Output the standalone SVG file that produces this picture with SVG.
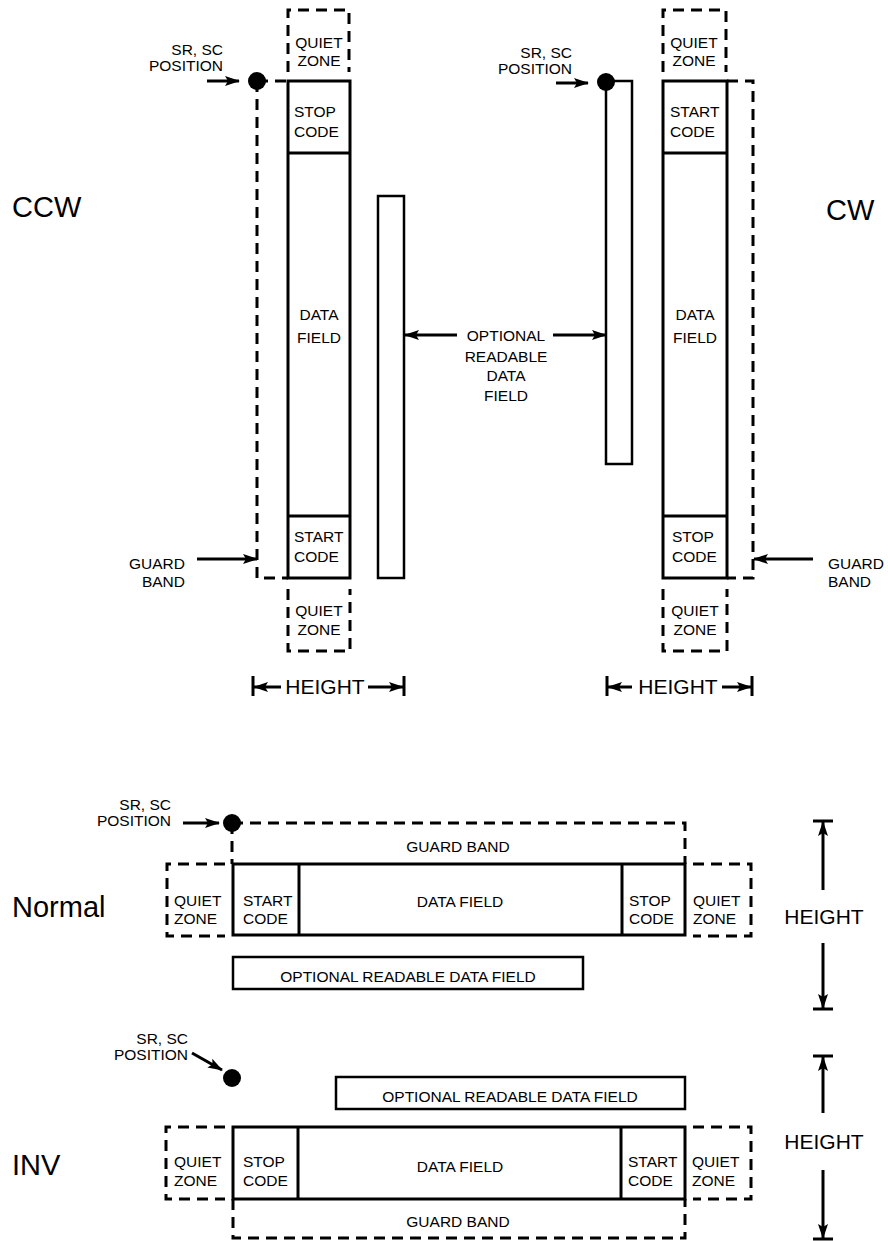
<svg xmlns="http://www.w3.org/2000/svg" width="888" height="1241" viewBox="0 0 888 1241">
<defs>
<style>
text{font-family:"Liberation Sans",Arial,sans-serif;fill:#000}
.t{font-size:15.5px}
.m{text-anchor:middle}
.e{text-anchor:end}
.big{font-size:21px}
.lab{font-size:29px}
.s{fill:none;stroke:#000;stroke-width:3}
.r{fill:none;stroke:#000;stroke-width:2.5}
.d{fill:none;stroke:#000;stroke-width:3;stroke-dasharray:11 7}
.a{fill:none;stroke:#000;stroke-width:3;marker-end:url(#ah)}
.k{stroke:#000;stroke-width:3}
</style>
<marker id="ah" viewBox="0 0 15 10" refX="14" refY="5" markerWidth="15" markerHeight="10" orient="auto" markerUnits="userSpaceOnUse">
<path d="M0,0 L15,5 L0,10 L3,5 z" fill="#000"/>
</marker>
</defs>
<rect width="888" height="1241" fill="#fff"/>

<!-- Titles -->
<g id="labels">
<text class="lab" x="12" y="217">CCW</text>
<text class="lab" x="826" y="220">CW</text>
<text class="lab" x="12" y="917">Normal</text>
<text class="lab" x="12" y="1175">INV</text>
</g>

<!-- CCW -->
<g id="ccw-quiet-top">
<path class="d" d="M288,72 V10 H349 V72"/>
<text class="t m" x="319" y="48">QUIET</text>
<text class="t m" x="319" y="66">ZONE</text>
</g>
<g id="ccw-bar">
<rect class="s" x="288" y="81" width="62" height="497"/>
<line class="k" x1="288" y1="153" x2="350" y2="153"/>
<line class="k" x1="288" y1="516" x2="350" y2="516"/>
<text class="t" x="294" y="117">STOP</text>
<text class="t" x="294" y="137">CODE</text>
<text class="t m" x="319" y="320">DATA</text>
<text class="t m" x="319" y="343">FIELD</text>
<text class="t" x="294" y="542">START</text>
<text class="t" x="294" y="562">CODE</text>
</g>
<g id="ccw-guard">
<path class="d" d="M257,81 H288"/>
<path class="d" d="M257,81 V578 H288"/>
</g>
<g id="ccw-quiet-bottom">
<path class="d" d="M288,589 V651 H350 V589"/>
<text class="t m" x="319" y="616">QUIET</text>
<text class="t m" x="319" y="635">ZONE</text>
</g>
<g id="ccw-readable">
<rect class="r" x="378" y="196" width="26" height="382"/>
</g>
<g id="ccw-position">
<circle cx="257" cy="81" r="9" fill="#000"/>
<text class="t e" x="223" y="55">SR, SC</text>
<text class="t e" x="223" y="71">POSITION</text>
</g>
<g id="ccw-guard-label">
<text class="t e" x="185" y="569">GUARD</text>
<text class="t e" x="185" y="587">BAND</text>
</g>
<g id="ccw-height">
<line class="k" x1="253" y1="676" x2="253" y2="696"/>
<line class="k" x1="404" y1="676" x2="404" y2="696"/>
<text class="big m" x="325" y="694">HEIGHT</text>
</g>

<!-- CW -->
<g id="cw-quiet-top">
<path class="d" d="M663,72 V10 H726 V72"/>
<text class="t m" x="694" y="48">QUIET</text>
<text class="t m" x="694" y="66">ZONE</text>
</g>
<g id="cw-bar">
<rect class="s" x="663" y="81" width="64" height="497"/>
<line class="k" x1="663" y1="153" x2="727" y2="153"/>
<line class="k" x1="663" y1="516" x2="727" y2="516"/>
<text class="t" x="670" y="117">START</text>
<text class="t" x="670" y="137">CODE</text>
<text class="t m" x="695" y="320">DATA</text>
<text class="t m" x="695" y="343">FIELD</text>
<text class="t" x="672" y="542">STOP</text>
<text class="t" x="672" y="562">CODE</text>
</g>
<g id="cw-guard">
<path class="d" d="M727,81 H753 V578 H727"/>
</g>
<g id="cw-quiet-bottom">
<path class="d" d="M663,589 V651 H727 V589"/>
<text class="t m" x="695" y="616">QUIET</text>
<text class="t m" x="695" y="635">ZONE</text>
</g>
<g id="cw-readable">
<rect class="r" x="606" y="81" width="26" height="383"/>
</g>
<g id="cw-position">
<circle cx="606" cy="82" r="9" fill="#000"/>
<text class="t e" x="572" y="58">SR, SC</text>
<text class="t e" x="572" y="74">POSITION</text>
</g>
<g id="cw-guard-label">
<text class="t" x="828" y="569">GUARD</text>
<text class="t" x="828" y="587">BAND</text>
</g>
<g id="cw-height">
<line class="k" x1="607" y1="676" x2="607" y2="696"/>
<line class="k" x1="752" y1="676" x2="752" y2="696"/>
<text class="big m" x="678" y="694">HEIGHT</text>
</g>

<g id="optional-label">
<text class="t m" x="506" y="341">OPTIONAL</text>
<text class="t m" x="506" y="362">READABLE</text>
<text class="t m" x="506" y="381">DATA</text>
<text class="t m" x="506" y="401">FIELD</text>
</g>

<!-- Normal -->
<g id="normal-position">
<circle cx="232" cy="823" r="9" fill="#000"/>
<text class="t e" x="171" y="810">SR, SC</text>
<text class="t e" x="171" y="826">POSITION</text>
</g>
<g id="normal-guard">
<path class="d" d="M232,823 H685 V864"/>
<path class="d" d="M232,823 V864"/>
<text class="t m" x="458" y="852">GUARD BAND</text>
</g>
<g id="normal-quiet-left">
<path class="d" d="M225,864 H167 V936 H225"/>
<text class="t" x="174" y="906">QUIET</text>
<text class="t" x="174" y="924">ZONE</text>
</g>
<g id="normal-bar">
<rect class="s" x="233" y="864" width="452" height="71"/>
<line class="k" x1="299" y1="864" x2="299" y2="935"/>
<line class="k" x1="622" y1="864" x2="622" y2="935"/>
<text class="t" x="243" y="906">START</text>
<text class="t" x="243" y="924">CODE</text>
<text class="t m" x="460" y="907">DATA FIELD</text>
<text class="t" x="629" y="906">STOP</text>
<text class="t" x="629" y="924">CODE</text>
</g>
<g id="normal-quiet-right">
<path class="d" d="M693,864 H751 V936 H693"/>
<text class="t" x="693" y="906">QUIET</text>
<text class="t" x="693" y="924">ZONE</text>
</g>
<g id="normal-readable">
<rect class="r" x="233" y="957" width="350" height="32"/>
<text class="t m" x="408" y="982">OPTIONAL READABLE DATA FIELD</text>
</g>
<g id="normal-height">
<line class="k" x1="813" y1="821" x2="833" y2="821"/>
<line class="k" x1="813" y1="1009" x2="833" y2="1009"/>
<text class="big m" x="824" y="924">HEIGHT</text>
</g>

<!-- INV -->
<g id="inv-position">
<circle cx="232" cy="1078" r="9" fill="#000"/>
<text class="t e" x="188" y="1044">SR, SC</text>
<text class="t e" x="188" y="1060">POSITION</text>
</g>
<g id="inv-readable">
<rect class="r" x="336" y="1077" width="349" height="32"/>
<text class="t m" x="510" y="1102">OPTIONAL READABLE DATA FIELD</text>
</g>
<g id="inv-quiet-left">
<path class="d" d="M225,1127 H166 V1199 H225"/>
<text class="t" x="174" y="1167">QUIET</text>
<text class="t" x="174" y="1186">ZONE</text>
</g>
<g id="inv-bar">
<rect class="s" x="233" y="1127" width="452" height="72"/>
<line class="k" x1="298" y1="1127" x2="298" y2="1199"/>
<line class="k" x1="621" y1="1127" x2="621" y2="1199"/>
<text class="t" x="243" y="1167">STOP</text>
<text class="t" x="243" y="1186">CODE</text>
<text class="t m" x="460" y="1172">DATA FIELD</text>
<text class="t" x="628" y="1167">START</text>
<text class="t" x="628" y="1186">CODE</text>
</g>
<g id="inv-quiet-right">
<path class="d" d="M693,1127 H751 V1199 H693"/>
<text class="t" x="692" y="1167">QUIET</text>
<text class="t" x="692" y="1186">ZONE</text>
</g>
<g id="inv-guard">
<path class="d" d="M233,1199 V1238 H685 V1199"/>
<text class="t m" x="458" y="1227">GUARD BAND</text>
</g>
<g id="inv-height">
<line class="k" x1="813" y1="1056" x2="833" y2="1056"/>
<line class="k" x1="813" y1="1239" x2="833" y2="1239"/>
<text class="big m" x="824" y="1149">HEIGHT</text>
</g>

<!-- Connectors -->
<g id="connectors">
<path class="a" d="M207,81 H239"/>
<path class="a" d="M197,559 H257"/>
<path class="a" d="M281,687 H254"/>
<path class="a" d="M368,687 H403"/>
<path class="a" d="M556,83 H588"/>
<path class="a" d="M813,559 H754"/>
<path class="a" d="M632,687 H608"/>
<path class="a" d="M722,687 H751"/>
<path class="a" d="M457,335 H405"/>
<path class="a" d="M553,335 H606"/>
<path class="a" d="M183,823 H219"/>
<path class="a" d="M823,890 V822"/>
<path class="a" d="M823,943 V1008"/>
<path class="a" d="M192,1053 L222,1070"/>
<path class="a" d="M823,1113 V1057"/>
<path class="a" d="M823,1170 V1238"/>
</g>
</svg>
